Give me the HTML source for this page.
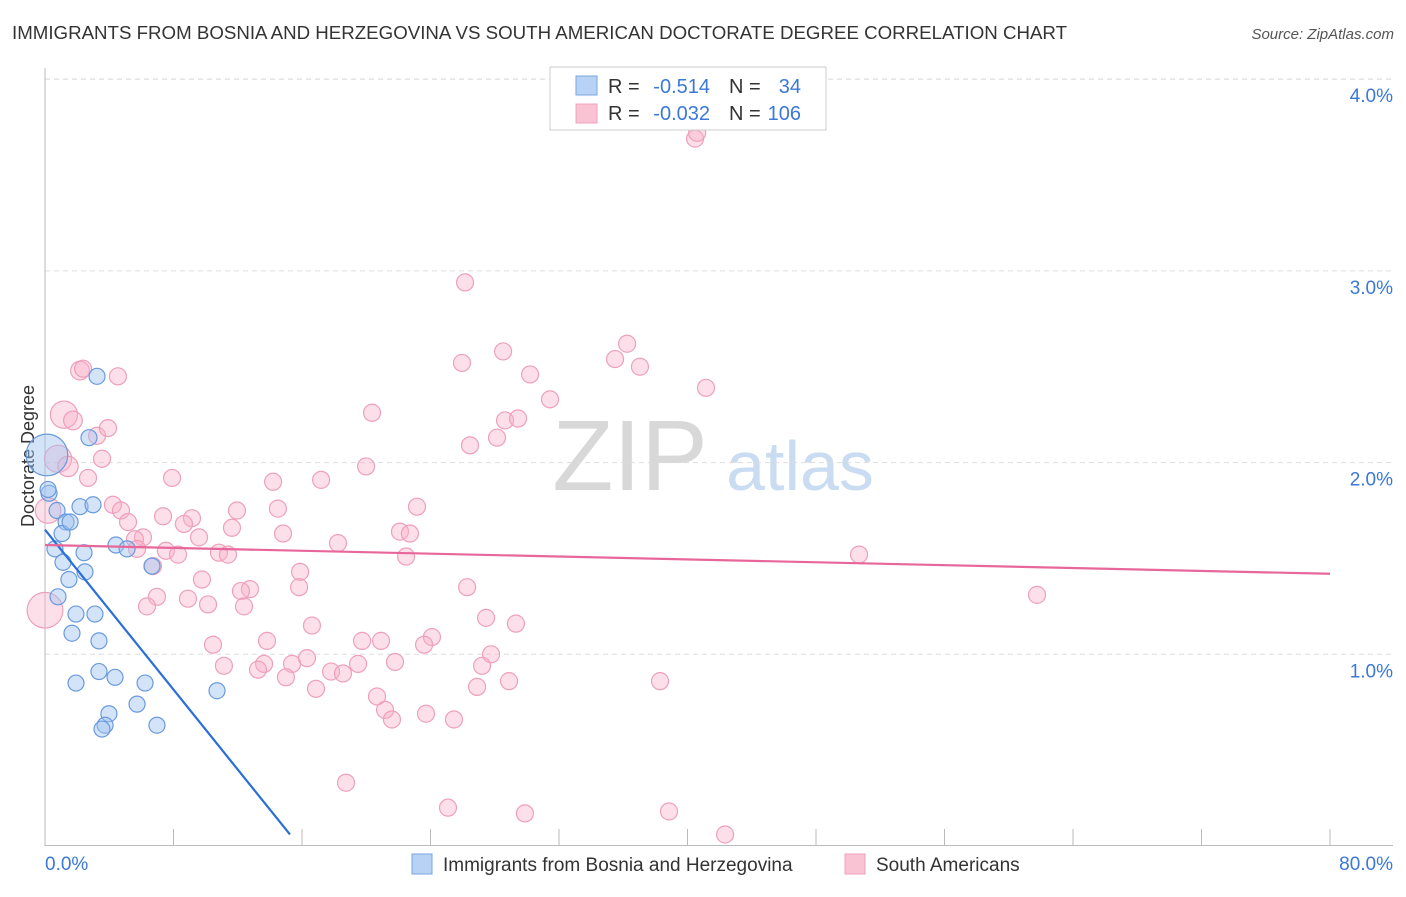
<!DOCTYPE html>
<html><head><meta charset="utf-8"><style>
body{margin:0;background:#fff;font-family:"Liberation Sans",sans-serif;}
svg text{font-family:"Liberation Sans",sans-serif;}
</style></head><body>
<svg id="chart" width="1406" height="892">
<text x="12" y="39" font-size="18" fill="#333" textLength="1055" lengthAdjust="spacingAndGlyphs">IMMIGRANTS FROM BOSNIA AND HERZEGOVINA VS SOUTH AMERICAN DOCTORATE DEGREE CORRELATION CHART</text>
<text x="1394" y="39" font-size="15" fill="#555" font-style="italic" text-anchor="end">Source: ZipAtlas.com</text>
<text transform="translate(34,456) rotate(-90)" font-size="18" fill="#333" text-anchor="middle">Doctorate Degree</text>
<g>
<text x="630" y="490" font-size="100" fill="#d8d8d8" font-family="Liberation Serif" text-anchor="middle">ZIP</text>
<text x="800" y="490" font-size="70" fill="#c9dcf2" text-anchor="middle">atlas</text>
</g>
<g id="grid"></g>
<g id="axes"></g>
<g id="pink"></g>
<g id="blue"></g>
<g id="trends"></g>
<g>
<rect x="550" y="67" width="276" height="63" fill="#fff" stroke="#ccc"/>
<rect x="576" y="76" width="21" height="19" fill="#b8d2f5" stroke="#7aa6e0"/>
<rect x="576" y="104" width="21" height="19" fill="#f9c3d4" stroke="#f0a0bc"/>
<text x="608" y="93" font-size="20" fill="#333">R =</text>
<text x="710" y="93" font-size="20" fill="#3b78d8" text-anchor="end">-0.514</text>
<text x="729" y="93" font-size="20" fill="#333">N =</text>
<text x="801" y="93" font-size="20" fill="#3b78d8" text-anchor="end">34</text>
<text x="608" y="120" font-size="20" fill="#333">R =</text>
<text x="710" y="120" font-size="20" fill="#3b78d8" text-anchor="end">-0.032</text>
<text x="729" y="120" font-size="20" fill="#333">N =</text>
<text x="801" y="120" font-size="20" fill="#3b78d8" text-anchor="end">106</text>
</g>
<g>
<rect x="412" y="854" width="20" height="20" fill="#b8d2f5" stroke="#7aa6e0"/>
<text x="443" y="871" font-size="19" fill="#333">Immigrants from Bosnia and Herzegovina</text>
<rect x="845" y="854" width="20" height="20" fill="#f9c3d4" stroke="#f0a0bc"/>
<text x="876" y="871" font-size="19" fill="#333">South Americans</text>
</g>
</svg>
<script>
const yTicks=[1,2,3,4];
const yTickLabels=["1.0%","2.0%","3.0%","4.0%"];
const xTickLabels=["0.0%","80.0%"];
const blueX=[3.24,2.74,0.25,0.75,2.18,2.99,1.31,1.06,0.62,2.43,4.42,5.11,1.12,2.49,1.49,6.66,0.81,1.93,3.11,1.68,3.36,3.36,4.36,1.93,6.23,10.71,3.98,5.73,3.74,3.55,6.97,0.12,0.19,1.56];
const blueY=[2.45,2.13,1.84,1.75,1.77,1.78,1.69,1.63,1.55,1.53,1.57,1.55,1.48,1.43,1.39,1.46,1.30,1.21,1.21,1.11,1.07,0.91,0.88,0.85,0.85,0.81,0.69,0.74,0.63,0.61,0.63,2.04,1.86,1.69];
const blueR=[1,1,1,1,1,1,1,1,1,1,1,1,1,1,1,1,1,1,1,1,1,1,1,1,1,1,1,1,1,1,1,2.6,1,1];
const pinkX=[40.47,40.6,26.15,28.52,25.96,35.49,36.24,37.04,30.2,41.15,31.44,20.36,28.64,29.45,28.14,26.46,19.99,17.19,14.2,23.16,14.5,11.95,22.1,22.72,11.64,14.82,18.24,22.48,15.88,26.28,15.82,12.76,12.2,12.39,27.46,29.32,16.62,24.09,23.6,19.74,20.92,13.82,10.46,27.77,27.21,21.79,19.49,15.38,16.31,13.64,13.26,11.14,17.81,18.55,15.0,16.87,26.9,28.89,38.29,20.67,21.17,21.6,23.72,25.46,18.74,25.09,29.88,38.85,42.34,50.68,61.76,2.18,2.37,4.54,1.18,1.74,3.24,3.92,3.55,0.81,1.43,2.68,7.91,4.23,4.73,0.19,5.17,7.35,9.15,8.65,9.59,6.1,5.6,5.73,7.53,8.28,10.83,11.39,6.72,9.77,6.97,8.9,6.35,10.15,0.0];
const pinkY=[3.69,3.72,2.94,2.58,2.52,2.54,2.62,2.50,2.46,2.39,2.33,2.26,2.22,2.23,2.13,2.09,1.98,1.91,1.90,1.77,1.76,1.75,1.64,1.63,1.66,1.63,1.58,1.51,1.43,1.35,1.35,1.34,1.33,1.25,1.19,1.16,1.15,1.09,1.05,1.07,1.07,1.07,1.05,1.00,0.94,0.96,0.95,0.95,0.98,0.95,0.92,0.94,0.91,0.90,0.88,0.82,0.83,0.86,0.86,0.78,0.71,0.66,0.69,0.66,0.33,0.20,0.17,0.18,0.06,1.52,1.31,2.48,2.49,2.45,2.25,2.22,2.14,2.18,2.02,2.02,1.98,1.92,1.92,1.78,1.75,1.75,1.69,1.72,1.71,1.68,1.61,1.61,1.60,1.55,1.54,1.52,1.53,1.52,1.46,1.39,1.30,1.29,1.25,1.26,1.23];
const pinkR=[1,1,1,1,1,1,1,1,1,1,1,1,1,1,1,1,1,1,1,1,1,1,1,1,1,1,1,1,1,1,1,1,1,1,1,1,1,1,1,1,1,1,1,1,1,1,1,1,1,1,1,1,1,1,1,1,1,1,1,1,1,1,1,1,1,1,1,1,1,1,1,1.1,1,1,1.6,1.1,1,1,1,1.6,1.2,1,1,1,1,1.5,1,1,1,1,1,1,1,1,1,1,1,1,1,1,1,1,1,1,2.1];
const blueTrend=[[0,1.65],[15.25,0.06]];
const pinkTrend=[[0,1.57],[80,1.42]];
const X=v=>45+v/80*1285, Y=v=>846-v*191.7;
const NS="http://www.w3.org/2000/svg";
function mk(parent,tag,attrs){const e=document.createElementNS(NS,tag);for(const k in attrs)e.setAttribute(k,attrs[k]);document.getElementById(parent).appendChild(e);return e;}
yTicks.forEach((t,i)=>{
 const l=mk('grid','line',{x1:45,x2:1393,y1:Y(t),y2:Y(t),stroke:'#ddd','stroke-dasharray':'5,4'});
 
 
 const tx=mk('grid','text',{x:1393,y:Y(t)+23,'font-size':19,fill:'#3b78d8','text-anchor':'end'});tx.textContent=yTickLabels[i];
 
 
});
const topGrid=mk('grid','line',{x1:45,x2:1393,y1:79,y2:79,stroke:'#ddd','stroke-dasharray':'5,4'});


const ya=mk('axes','line',{x1:45,x2:45,y1:68,y2:846,stroke:'#bbb'});


const xa=mk('axes','line',{x1:45,x2:1393,y1:845.5,y2:845.5,stroke:'#bbb'});


for(let i=0;i<=10;i++){const t=mk('axes','line',{x1:X(i*8),x2:X(i*8),y1:829,y2:846,stroke:'#bbb'});
 
 }
[[0,'start',45],[80,'end',1393]].forEach((d,i)=>{const t=mk('axes','text',{x:d[2],y:870,'font-size':19,fill:'#3b78d8','text-anchor':d[1]});t.textContent=xTickLabels[i];
 
 });
pinkX.forEach((v,i)=>{const c=mk('pink','circle',{cx:X(v),cy:Y(pinkY[i]),r:8.5*pinkR[i],fill:'rgba(248,175,200,0.4)',stroke:'#eea0bb','stroke-width':1.2});
 
 });
blueX.forEach((v,i)=>{const c=mk('blue','circle',{cx:X(v),cy:Y(blueY[i]),r:8*blueR[i],fill:'rgba(160,195,240,0.45)',stroke:'#6a9ade','stroke-width':1.2});
 
 });
const bt=mk('trends','line',{x1:X(blueTrend[0][0]),y1:Y(blueTrend[0][1]),x2:X(blueTrend[1][0]),y2:Y(blueTrend[1][1]),stroke:'#2a6fd6','stroke-width':2.2});


const pt=mk('trends','line',{x1:X(pinkTrend[0][0]),y1:Y(pinkTrend[0][1]),x2:X(pinkTrend[1][0]),y2:Y(pinkTrend[1][1]),stroke:'#e8679a','stroke-width':2.2});


</script>
</body></html>
